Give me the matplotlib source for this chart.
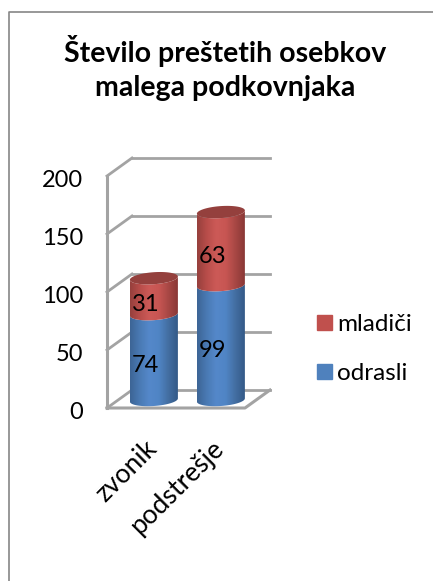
import numpy as np
import matplotlib
matplotlib.use("Agg")
import matplotlib.pyplot as plt
from matplotlib.lines import Line2D
from matplotlib.patches import Patch, Polygon
from matplotlib.transforms import offset_copy, ScaledTranslation
from matplotlib.colors import LinearSegmentedColormap

plt.rcParams['font.family'] = ['Lato', 'DejaVu Sans']

categories = ['zvonik', 'podstrešje']
odrasli = [74, 99]
mladici = [31, 63]
yticks = [0, 50, 100, 150, 200]
title = 'Število preštetih osebkov\nmalega podkovnjaka'

W, H = 433, 581
fig = plt.figure(figsize=(W / 100, H / 100), dpi=100, facecolor='white')
# axes = front plane of the fake 3d box, in pixels
left, right, top, bottom = 107, 245, 176, 408
ax = fig.add_axes([left / W, 1 - bottom / H, (right - left) / W, (bottom - top) / H])

xlim = (-0.70, 1.36)
ylim = (0, 200)
px_x = (right - left) / (xlim[1] - xlim[0])
px_y = (bottom - top) / (ylim[1] - ylim[0])

grid_c = '#a3a3a3'
back = offset_copy(ax.transData, fig, x=25, y=18, units='dots')
mid = offset_copy(ax.transData, fig, x=0, y=8, units='dots')

# walls and gridlines
for v in yticks:
    ax.plot([xlim[0], xlim[1]], [v, v], color=grid_c, lw=2, transform=back, clip_on=False, zorder=1)
    ax.plot([xlim[0], xlim[0] + 25 / px_x], [v, v + 18 / px_y], color=grid_c, lw=2, clip_on=False, zorder=1)
ax.plot([xlim[0], xlim[0]], ylim, color=grid_c, lw=2.2, clip_on=False, zorder=1)
ax.plot([xlim[0], xlim[1], xlim[1] + 25 / px_x], [0, 0, 18 / px_y], color=grid_c, lw=2.2, clip_on=False, zorder=1)

blue = LinearSegmentedColormap.from_list('b', ['#3d6596', '#4a7ab4', '#5488ca', '#5085c5', '#446fa3', '#345a88'])
red = LinearSegmentedColormap.from_list('r', ['#97403d', '#b84d4a', '#cc5a57', '#c85653', '#a94845', '#8a3836'])
cap_c = '#94403d'

half_w = 24 / px_x
half_h = 6 / px_y
tilt = 1.6 / px_y
t = np.linspace(np.pi, 2 * np.pi, 60)


def arc(x, y, th):
    # ellipse arc, tilted slightly up to the right
    u = np.cos(th)
    return x + half_w * u, y + half_h * np.sin(th) + tilt * u


def body(x, y0, y1, cmap):
    xa, ya = arc(x, y0, t)
    xb, yb = arc(x, y1, t)
    poly = Polygon(np.r_[np.c_[xa, ya], np.c_[xb, yb][::-1]], closed=True, transform=mid, fc='none', ec='none')
    ax.add_patch(poly)
    im = ax.imshow(np.linspace(0, 1, 64)[None, :], cmap=cmap, aspect='auto', transform=mid, zorder=3,
                   extent=(x - half_w, x + half_w, y0 - 2 * half_h, y1 + 2 * half_h), interpolation='bilinear')
    im.set_clip_path(poly)


for i in range(len(categories)):
    body(i, 0, odrasli[i], blue)
    total = odrasli[i] + mladici[i]
    body(i, odrasli[i], total, red)
    th = np.linspace(0, 2 * np.pi, 100)
    xc, yc = arc(i, total, th)
    ax.fill(xc, yc, color=cap_c, transform=mid, zorder=4, lw=0)
    ax.annotate(str(odrasli[i]), (i, odrasli[i] / 2), xytext=(-6, 0), textcoords='offset points',
                ha='center', va='center', fontsize=17, color='black', zorder=5)
    ax.annotate(str(mladici[i]), (i, odrasli[i] + mladici[i] / 2), xytext=(-6, 0), textcoords='offset points',
                ha='center', va='center', fontsize=17, color='black', zorder=5)

ax.set_xlim(xlim)
ax.set_ylim(ylim)
for s in ax.spines.values():
    s.set_visible(False)
ax.patch.set_alpha(0)
ax.set_yticks(yticks)
ax.set_xticks(range(len(categories)))
ax.set_xticklabels(categories, rotation=45, ha='right', rotation_mode='anchor', fontsize=19)
ax.tick_params(axis='y', length=0, pad=17, labelsize=17)
ax.tick_params(axis='x', length=0, pad=20)
# labels sit a little left of the bar centre
for lab in ax.get_xticklabels():
    lab.set_transform(lab.get_transform() + ScaledTranslation(-7 / 72, 0, fig.dpi_scale_trans))
for lab in ax.get_yticklabels():
    lab.set_transform(lab.get_transform() + ScaledTranslation(0, -2 / 72, fig.dpi_scale_trans))

fig.text(225 / W, 1 - 68 / H, title, ha='center', va='center', fontsize=20.5, fontweight='bold',
         linespacing=1.35, color='black')

handles = [Patch(color='#c0504d', label='mladiči'), Patch(color='#4f81bd', label='odrasli')]
fig.legend(handles=handles, loc='center left', bbox_to_anchor=(317 / W, 1 - 349 / H), frameon=False,
           fontsize=17.5, handlelength=0.62, handleheight=0.62, handletextpad=0.22, labelspacing=1.15,
           borderpad=0, borderaxespad=0)

# chart area border, only left and top show in the crop
border = '#868686'
fig.add_artist(Line2D([9 / W, 9 / W, 1], [0, 1 - 12 / H, 1 - 12 / H], color=border, lw=1.2, transform=fig.transFigure))

fig.savefig('out.png', dpi=100)
